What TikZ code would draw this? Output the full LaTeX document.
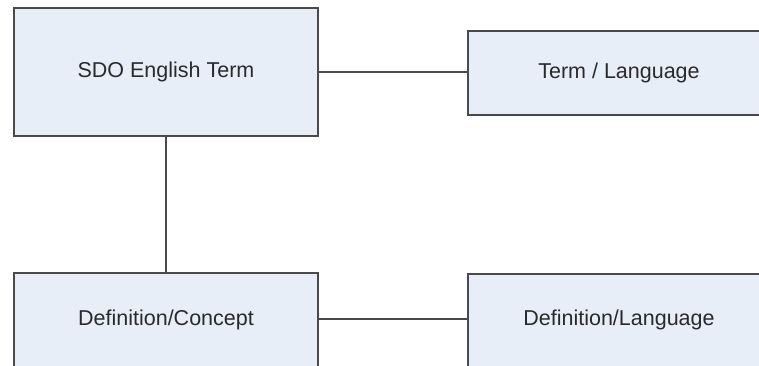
\documentclass[tikz,border=0pt]{standalone}
\usepackage{fontspec}
\setmainfont{Liberation Sans}
\definecolor{boxfill}{HTML}{E8EEF7}
\definecolor{boxline}{HTML}{4A4A4A}
\definecolor{txt}{HTML}{2A2A2A}
\begin{document}
\begin{tikzpicture}[x=1pt,y=-1pt,
  entity/.style={draw=boxline, line width=1.7pt, fill=boxfill, rectangle, inner sep=0pt,
     text=txt, font=\fontsize{21.5}{25}\selectfont},
  link/.style={draw=boxline, line width=1.7pt}]
\useasboundingbox (0,0) rectangle (759,365);
\clip (0,0) rectangle (759,365);
\node[entity, minimum width=304pt, minimum height=128pt] (sdo) at (166,72) {SDO English Term};
\node[entity, minimum width=302pt, minimum height=84pt] (tl) at (619,73) {Term / Language};
\node[entity, minimum width=304pt, text height=52pt, text depth=46pt, anchor=base] (dc) at (166,325) {Definition/Concept};
\node[entity, minimum width=302pt, text height=51pt, text depth=46pt, anchor=base] (dl) at (619,325) {Definition/Language};
\draw[link] (sdo.east) -- (sdo.east -| tl.west);
\draw[link] (sdo.south) -- (dc.north);
\draw[link] ([yshift=6pt]dc.base east) -- ([yshift=6pt]dc.base east -| dl.west);
\end{tikzpicture}
\end{document}
